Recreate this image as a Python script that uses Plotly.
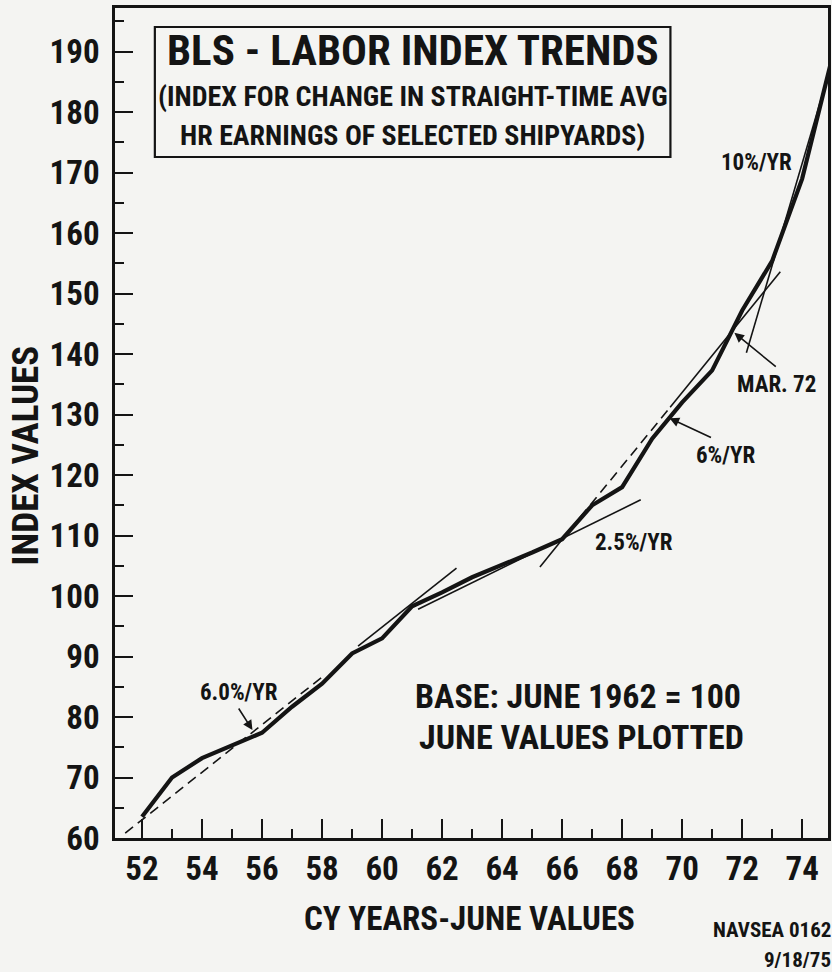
import plotly.graph_objects as go

# ---- data ----
years = [52, 53, 54, 55, 56, 57, 58, 59, 60, 61, 62, 63, 64, 65, 66, 67, 68, 69, 70, 71, 72, 73, 74, 75]
index_values = [63.5, 70.0, 73.2, 75.3, 77.4, 81.7, 85.5, 90.5, 93.0, 98.3, 100.6, 103.1, 105.1, 107.2,
                109.4, 115.0, 118.0, 126.0, 132.0, 137.3, 147.2, 155.4, 169.0, 189.0]

# trend-line segments (year, index) endpoints
trend60_dash_x = [51.44, 58.0]
trend60_dash_y = [60.8, 86.6]
trend60_solid_x = [59.2, 62.48]
trend60_solid_y = [91.7, 104.6]
trend25_x = [61.2, 68.62]
trend25_y = [97.8, 115.9]
trend6a_x = [65.26, 66.6]
trend6a_y = [104.8, 113.0]
trend6b_x = [66.6, 69.6]
trend6b_y = [113.0, 131.2]
trend6c_x = [69.6, 73.27]
trend6c_y = [131.2, 153.6]
trend10_x = [72.14, 74.86]
trend10_y = [140.2, 186.0]

x_tick_vals = [52, 54, 56, 58, 60, 62, 64, 66, 68, 70, 72, 74]
x_tick_text = ["52", "54", "56", "58", "60", "62", "64", "66", "68", "70", "72", "74"]
y_tick_vals = [60, 70, 80, 90, 100, 110, 120, 130, 140, 150, 160, 170, 180, 190]
y_tick_text = [str(v) for v in y_tick_vals]

FONT = "Roboto Condensed, Liberation Sans Narrow, Roboto, Liberation Sans, sans-serif"
INK = "#141414"
BG = "#f4f4f2"

fig = go.Figure()

def seg(x, y, width, dash="solid"):
    fig.add_trace(go.Scatter(x=x, y=y, mode="lines", showlegend=False, hoverinfo="skip",
                             line=dict(color=INK, width=width, dash=dash)))

seg(trend60_dash_x, trend60_dash_y, 1.6, "10px,6px")
seg(trend60_solid_x, trend60_solid_y, 1.6)
seg(trend25_x, trend25_y, 1.6)
seg(trend6a_x, trend6a_y, 1.6)
seg(trend6b_x, trend6b_y, 1.6, "10px,6px")
seg(trend6c_x, trend6c_y, 1.6)
seg(trend10_x, trend10_y, 1.6)

fig.add_trace(go.Scatter(x=years, y=index_values, mode="lines", showlegend=False, hoverinfo="skip",
                         line=dict(color=INK, width=4.2)))

axis_common = dict(showgrid=False, zeroline=False, showline=True, linecolor=INK, linewidth=2.5,
                   mirror=True, ticks="inside", tickcolor=INK, tickwidth=2.2,
                   tickfont=dict(family=FONT, size=33, color=INK, weight="bold"))

fig.update_xaxes(range=[51.1, 74.86], tickmode="array", tickvals=x_tick_vals, ticktext=x_tick_text,
                 ticklen=19, ticklabelstandoff=0,
                 minor=dict(ticks="inside", dtick=1, tick0=52, ticklen=9, tickwidth=2, tickcolor=INK),
                 **axis_common)
fig.update_yaxes(range=[60, 197.2], tickmode="array", tickvals=y_tick_vals, ticktext=y_tick_text,
                 ticklen=18, ticklabelstandoff=6,
                 minor=dict(ticks="inside", dtick=5, tick0=60, ticklen=9, tickwidth=2, tickcolor=INK),
                 **axis_common)

def txt(x, y, s, size, xref="x", yref="y", xanchor="center", angle=0):
    fig.add_annotation(x=x, y=y, xref=xref, yref=yref, text=s, showarrow=False, xanchor=xanchor,
                       yanchor="middle", textangle=angle,
                       font=dict(family=FONT, size=size, color=INK, weight="bold"))

def arrow(hx, hy, tx, ty):
    fig.add_annotation(x=hx, y=hy, ax=tx, ay=ty, xref="x", yref="y", axref="x", ayref="y",
                       text="", showarrow=True, arrowhead=2, arrowsize=1.2, arrowwidth=1.6,
                       arrowcolor=INK)

# title box
fig.add_shape(type="rect", xref="paper", yref="paper", x0=0.0559, x1=0.779, y0=0.8205, y1=0.9771,
              line=dict(color=INK, width=2.2), fillcolor=BG)
txt(0.4176, 0.9494, "BLS - LABOR INDEX TRENDS", 43, "paper", "paper")
txt(0.4176, 0.8928, "(INDEX FOR CHANGE IN STRAIGHT-TIME AVG", 28, "paper", "paper")
txt(0.4176, 0.8458, "HR EARNINGS OF SELECTED SHIPYARDS)", 28, "paper", "paper")

# rate labels
txt(55.22, 84.1, "6.0%/YR", 23)
txt(68.39, 108.8, "2.5%/YR", 23)
txt(71.46, 123.3, "6%/YR", 23)
txt(73.13, 134.9, "MAR. 72", 23)
txt(72.47, 171.6, "10%/YR", 23)
arrow(55.68, 77.85, 55.19, 81.65)
arrow(69.58, 129.4, 71.01, 126.1)
arrow(71.74, 143.5, 73.17, 137.7)

# base notes
txt(66.53, 83.5, "BASE: JUNE 1962 = 100", 34)
txt(66.63, 76.7, "JUNE VALUES PLOTTED", 34)

# axis titles and footer
txt(-0.1257, 0.4614, "INDEX VALUES", 37, "paper", "paper", angle=-90)
txt(0.4972, -0.0964, "CY YEARS-JUNE VALUES", 33, "paper", "paper")
txt(1.007, -0.1108, "NAVSEA 0162", 21, "paper", "paper", xanchor="right")
txt(1.007, -0.147, "9/18/75", 21, "paper", "paper", xanchor="right")

fig.update_layout(width=832, height=972, margin=dict(l=115, r=1, t=8, b=134, pad=0),
                  paper_bgcolor=BG, plot_bgcolor=BG, showlegend=False,
                  font=dict(family=FONT, color=INK))

fig.write_html("out.html", config={"displayModeBar": False},
               post_script="document.body.style.margin='0';document.body.style.overflow='hidden';")
